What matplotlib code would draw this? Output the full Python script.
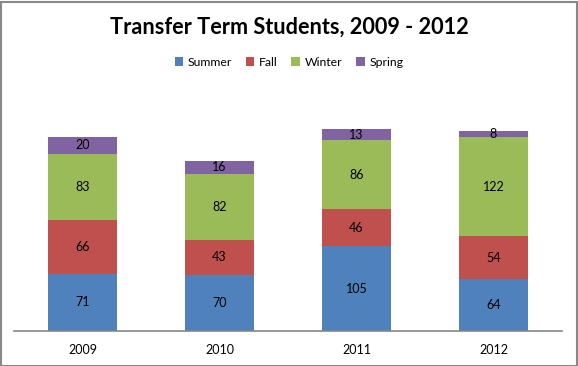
import matplotlib
matplotlib.use("Agg")
import matplotlib.pyplot as plt
import numpy as np
from matplotlib.patches import Rectangle

years = ["2009", "2010", "2011", "2012"]
terms = ["Summer", "Fall", "Winter", "Spring"]
summer = [71, 70, 105, 64]
fall = [66, 43, 46, 54]
winter = [83, 82, 86, 122]
spring = [20, 16, 13, 8]
kolory = ["#4F81BD", "#C0504D", "#9BBB59", "#8064A2"]

plt.rcParams['font.family'] = ['Lato', 'DejaVu Sans']

fig = plt.figure(figsize=(5.78, 3.66), dpi=100)
W, H = 578, 366
ax = fig.add_axes([14 / W, (H - 331) / H, 548 / W, (331 - 89) / H])

x = np.arange(len(years))
dol = np.zeros(len(years))
for seria, nazwa, kol in zip([summer, fall, winter, spring], terms, kolory):
    slupki = ax.bar(x, seria, width=0.51, bottom=dol, color=kol, label=nazwa)
    ax.bar_label(slupki, labels=[str(v) for v in seria], label_type='center',
                 fontsize=9, color='black')
    dol += np.array(seria)

ax.set_xlim(-0.5, 3.5)
ax.set_ylim(0, 300)
ax.set_yticks([])
ax.set_xticks(x)
ax.set_xticklabels(years, fontsize=9)
ax.tick_params(axis='x', length=0, pad=9)
for s in ['left', 'right', 'top']:
    ax.spines[s].set_visible(False)
ax.spines['bottom'].set_color('#868686')
ax.spines['bottom'].set_linewidth(1.2)

fig.text(0.5, 1 - 27 / H, "Transfer Term Students, 2009 - 2012", ha='center',
         va='center', fontsize=15.6, fontweight='bold')

fig.legend(loc='center', bbox_to_anchor=(0.5, 1 - 62 / H), ncol=4, frameon=False,
           fontsize=8.8, handlelength=0.7, handleheight=0.7, handletextpad=0.4,
           columnspacing=1.1)

fig.patches.append(Rectangle((0.5 / W, 0.5 / H), 1 - 2 / W, 1 - 2 / H,
                             transform=fig.transFigure, fill=False,
                             edgecolor='#888888', linewidth=1.5))

fig.savefig("out.png", dpi=100)
